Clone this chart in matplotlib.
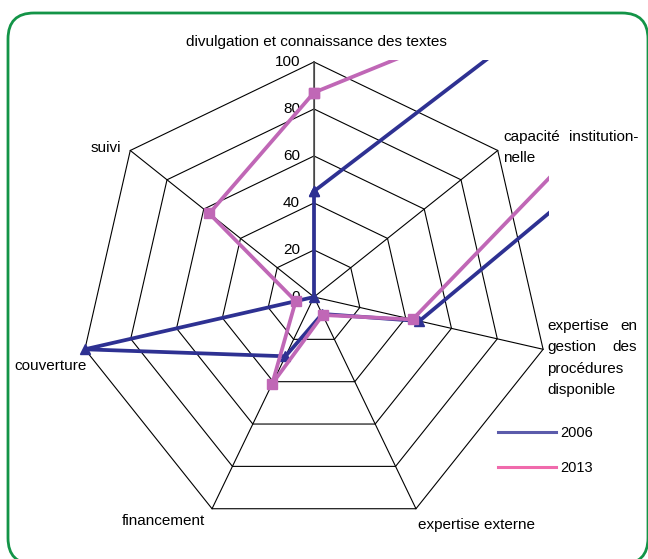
import numpy as np
import matplotlib
matplotlib.use('Agg')
import matplotlib.pyplot as plt
from matplotlib import font_manager
from matplotlib.patches import FancyBboxPatch
from matplotlib.lines import Line2D
from matplotlib.transforms import IdentityTransform

# axes of the radar, clockwise from the top
categories = ['divulgation et connaissance des textes', 'capacité institutionnelle',
              'expertise en gestion des procédures disponible', 'expertise externe',
              'financement', 'couverture', 'suivi']
values_2006 = [45, 1700, 46, 8, 28, 100, 0]
values_2013 = [87, 285, 43, 8.5, 41, 8, 57]
ticks = [0, 20, 40, 60, 80, 100]
series_names = ['2006', '2013']

names = {f.name for f in font_manager.fontManager.ttflist}
if 'Liberation Sans Narrow' in names:
    FONT, FS = 'Liberation Sans Narrow', 13
else:
    FONT, FS = 'Liberation Sans', 11
plt.rcParams['font.family'] = [FONT, 'DejaVu Sans']

W, H = 648, 559
cx, cy, s = 314, 297, 2.35          # centre in pixels, pixels per unit
L, R, T, B = 40, 549, 60, 535        # plot area (clips the lines, like the original)

fig = plt.figure(figsize=(W / 100, H / 100), dpi=100)
ax = fig.add_axes([L / W, (H - B) / H, (R - L) / W, (B - T) / H])
ax.set_xlim((L - cx) / s, (R - cx) / s)
ax.set_ylim((cy - B) / s, (cy - T) / s)
ax.axis('off')


def px(x, y):
    return x / W, 1 - y / H


n = len(categories)
theta = np.deg2rad(90 - np.arange(n) * 360 / n)
cs, sn = np.cos(theta), np.sin(theta)

# web
for t in ticks[1:]:
    ax.plot(np.append(t * cs, t * cs[0]), np.append(t * sn, t * sn[0]),
            color='black', lw=0.8, zorder=1)
for c, si in zip(cs, sn):
    ax.plot([0, 100 * c], [0, 100 * si], color='black', lw=0.8, zorder=1)
ax.plot([0, 0], [0, 100], color='#555555', lw=1.2, zorder=1)

for t in ticks:
    ax.text(-6, t, str(t), ha='right', va='center', fontsize=FS, zorder=2)

# series
v6 = np.array(values_2006 + values_2006[:1], dtype=float)
v13 = np.array(values_2013 + values_2013[:1], dtype=float)
cc = np.append(cs, cs[0]); ss = np.append(sn, sn[0])
ax.plot(v6 * cc, v6 * ss, color='#2e3192', lw=2.7, marker='^', ms=7,
        zorder=3, solid_joinstyle='miter')
ax.plot(v13 * cc, v13 * ss, color='#c067b6', lw=2.7, marker='s', ms=7,
        zorder=4, solid_joinstyle='miter')

# category labels
fig.text(*px(316, 42), categories[0], ha='center', va='center', fontsize=FS)
fig.text(*px(503, 137), 'capacité', ha='left', va='center', fontsize=FS)
fig.text(*px(638, 137), 'institution-', ha='right', va='center', fontsize=FS)
fig.text(*px(503, 158), 'nelle', ha='left', va='center', fontsize=FS)
fig.text(*px(547, 326), 'expertise', ha='left', va='center', fontsize=FS)
fig.text(*px(637, 326), 'en', ha='right', va='center', fontsize=FS)
fig.text(*px(547, 347), 'gestion', ha='left', va='center', fontsize=FS)
fig.text(*px(637, 347), 'des', ha='right', va='center', fontsize=FS)
fig.text(*px(547, 369), 'procédures', ha='left', va='center', fontsize=FS)
fig.text(*px(547, 390), 'disponible', ha='left', va='center', fontsize=FS)
fig.text(*px(121, 148), categories[6], ha='right', va='center', fontsize=FS)
fig.text(*px(14, 366), categories[5], ha='left', va='center', fontsize=FS)
fig.text(*px(122, 521), categories[4], ha='left', va='center', fontsize=FS)
fig.text(*px(418, 525), categories[3], ha='left', va='center', fontsize=FS)

# legend
handles = [Line2D([], [], color='#5b5bab', lw=2.2),
           Line2D([], [], color='#f06aac', lw=2.2)]
fig.legend(handles, series_names, loc='upper left', bbox_to_anchor=px(498, 426),
           frameon=False, fontsize=FS - 0.5, handlelength=4.0, handletextpad=0.3,
           labelspacing=1.45, borderpad=0, borderaxespad=0)

# rounded green frame
frame = FancyBboxPatch((8, 559 - 564), 640, 551, boxstyle='round,pad=0,rounding_size=26',
                       transform=IdentityTransform(), fill=False, ec='#139447', lw=2)
fig.patches.append(frame)

fig.savefig('out.png', dpi=100)
